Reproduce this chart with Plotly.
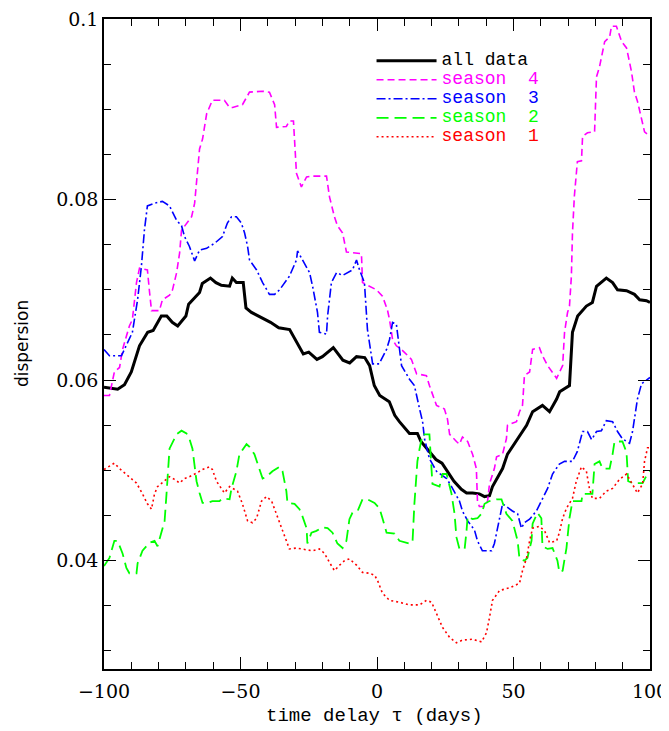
import plotly.graph_objects as go

# ---- data (time delay tau in days, dispersion) ----
tau_all = [-100,-95,-92.5,-90,-87,-84,-82,-79,-77,-75,-73,-70,-69,-65,-64,-61,-59,-57,-54,-53,-51.5,-49,-48,-46,-39,-36,-32,-29.5,-27,-25,-22,-20,-16,-12.5,-10,-7.5,-4.5,-2.7,-1,1,4.5,6.5,8.2,11.9,14.8,16.1,18.3,21.6,23.8,26.4,28.2,30.9,32.8,35,37.5,39.4,41.2,42.3,43.8,46,47.8,49.6,51.5,54.8,57,60.6,63.2,65.8,66.9,70.5,71.6,73.5,76.7,78.9,80.4,84,86.3,88.1,91.4,94.3,96.2,98.7,100]
disp_all = [0.0592,0.059,0.0595,0.0609,0.0638,0.0653,0.0655,0.0671,0.0671,0.0664,0.066,0.0671,0.0684,0.0697,0.0707,0.0713,0.0708,0.0705,0.0704,0.0713,0.0708,0.0708,0.068,0.0675,0.0664,0.0658,0.0656,0.0642,0.0629,0.0631,0.0623,0.0626,0.0636,0.0622,0.0619,0.0626,0.0625,0.0616,0.0594,0.0583,0.0576,0.0561,0.0554,0.0541,0.0541,0.0532,0.0524,0.0512,0.0508,0.0497,0.0488,0.0479,0.0475,0.0475,0.0474,0.0471,0.0472,0.0482,0.049,0.0502,0.0518,0.0526,0.0535,0.055,0.0565,0.0572,0.0565,0.0579,0.0587,0.0594,0.0653,0.0671,0.0682,0.0686,0.0704,0.0713,0.0708,0.07,0.0699,0.0695,0.0689,0.0688,0.0686]

tau_s4 = [-100,-98,-96.2,-94.3,-93.2,-90.7,-89.6,-88.1,-87,-84.1,-83.3,-82.6,-79.7,-78.6,-76,-74.9,-73.4,-72.3,-71.6,-69.8,-67.9,-66.8,-66.1,-65,-63.9,-62.4,-60.3,-55.9,-54,-52.9,-49.3,-46.7,-41.9,-39.4,-37.5,-36.8,-33.2,-32.1,-30.6,-30.2,-29.5,-27.7,-25.8,-24,-18.5,-17.4,-15.6,-14.5,-12.6,-11.2,-5.7,-5.3,-2.7,-0.2,2,3.8,4.6,5.7,7.1,9.3,12.6,14.5,18.1,19.2,21.8,24.7,25.8,26.6,29.1,30.2,31.3,33.2,35,36.4,36.8,37.5,39.4,40.5,41.2,43,43.8,46,47.4,47.8,51.1,52.2,53.3,54,55.9,57,59.5,60.6,62.5,64.3,65.8,68,68.7,69.8,70.5,71.2,71.6,72.3,73.4,74.9,75.3,77.1,79.7,80.4,81.5,83.4,85.2,85.9,87.7,89.6,91.4,93.2,94.3,95.4,96.9,98,100]
disp_s4 = [0.0583,0.0583,0.0609,0.0614,0.0634,0.066,0.0667,0.0708,0.0724,0.0722,0.0697,0.0677,0.0677,0.0689,0.0694,0.07,0.0719,0.0741,0.0766,0.0774,0.0781,0.0796,0.0818,0.0856,0.0867,0.0895,0.091,0.091,0.0902,0.0902,0.0905,0.0919,0.092,0.0919,0.0905,0.088,0.0881,0.0887,0.0887,0.0862,0.0829,0.0814,0.0825,0.0826,0.0826,0.0803,0.0781,0.0771,0.0763,0.0742,0.074,0.0708,0.0704,0.07,0.0693,0.0678,0.0667,0.0645,0.0638,0.0633,0.0623,0.0607,0.0605,0.0594,0.0572,0.0568,0.0557,0.054,0.0532,0.0529,0.0537,0.0532,0.0518,0.0502,0.0466,0.046,0.046,0.0466,0.0485,0.0502,0.0515,0.0518,0.0535,0.055,0.0554,0.0565,0.0572,0.0605,0.0609,0.0634,0.0636,0.0627,0.0616,0.0609,0.0602,0.0616,0.0653,0.0675,0.0682,0.0715,0.0763,0.0804,0.0842,0.0843,0.087,0.0874,0.0875,0.0936,0.0947,0.0975,0.098,0.0992,0.0992,0.0975,0.0968,0.0942,0.0919,0.0909,0.0891,0.0875,0.087]

tau_s3 = [-100,-98,-93.6,-91.8,-89.6,-87.7,-86.3,-85.2,-84.1,-81.5,-78.6,-76,-73.4,-71.6,-70.5,-68.7,-66.8,-65,-62.4,-59.3,-56.6,-54.8,-53.3,-51.5,-49.7,-48.5,-47.4,-46.7,-44.1,-41.9,-39.4,-37.5,-35.7,-32.1,-29.5,-29.1,-27.3,-24.7,-23.6,-21.8,-21.1,-18.5,-18.1,-16.7,-14.8,-12.6,-9,-7.5,-6.4,-4.6,-3.5,-1.6,0.8,3.5,4.6,5.7,7.1,8.2,9,11.9,13.7,15.6,16.7,17.4,19.2,21.8,25.5,27.3,30.2,31.3,33.2,35.7,36.8,38.6,42,43,44.9,46,49.6,51.5,52.9,54,55.9,58.4,60.2,62.5,64.3,66.8,68.7,71.6,73.4,75.3,77.1,78.6,80.4,82.2,84,86.3,88.1,89.9,92.5,93.6,95.4,96.9,98.7,100]
disp_s3 = [0.0634,0.0627,0.0627,0.0638,0.0653,0.0689,0.0726,0.0766,0.0793,0.0796,0.0798,0.0793,0.0777,0.0771,0.0759,0.0748,0.0732,0.0744,0.0746,0.0752,0.0759,0.0774,0.0781,0.0781,0.0774,0.0763,0.0748,0.0733,0.0722,0.0708,0.0695,0.0695,0.07,0.0715,0.0733,0.0743,0.0733,0.0719,0.0704,0.0675,0.0653,0.0651,0.0671,0.0708,0.0719,0.0716,0.0722,0.0733,0.0722,0.0708,0.0656,0.0618,0.0618,0.0634,0.0645,0.0664,0.0662,0.0634,0.0616,0.0601,0.0594,0.0568,0.0554,0.0535,0.0513,0.0499,0.0491,0.0482,0.0466,0.0455,0.0444,0.0434,0.0422,0.0411,0.0411,0.0419,0.0447,0.0463,0.0455,0.0452,0.0436,0.0442,0.0446,0.0455,0.0466,0.048,0.0496,0.0507,0.051,0.051,0.0521,0.0543,0.0543,0.0534,0.0543,0.0544,0.0555,0.0554,0.0543,0.0535,0.053,0.0543,0.0579,0.0596,0.06,0.0603]

tau_s2 = [-100,-98,-96.2,-95,-93.2,-91.8,-90.7,-88.1,-87.7,-85.9,-83.3,-81.5,-80.4,-78.9,-77.8,-77.1,-76.7,-76,-73.4,-71.6,-69.8,-68.7,-67.6,-66.8,-66.1,-65,-63.9,-62.1,-60.3,-57.7,-56.6,-54,-53.3,-51.5,-50.4,-47.8,-46.7,-44.9,-43,-41.9,-40.5,-38.3,-35.7,-34.6,-33.2,-32.8,-30.2,-28.4,-27.3,-25.8,-25.5,-24,-22.2,-20,-18.1,-16.3,-14.5,-12.6,-11.2,-10.1,-9,-7.1,-5.3,-3.5,-0.9,0.9,2,3.5,6.4,8.2,11.9,13,13.7,14.8,15.6,16.7,19.2,20,20.3,22.9,24,25.5,27.3,28.4,29.1,30.2,32.1,32.8,33.2,35,36.8,38.3,39.4,41.2,43.8,45.6,47.4,49.6,51.5,52.2,54,55.1,56.6,57,58.8,60.2,60.6,62.5,64.3,66.1,66.8,68,69.4,70.5,71.6,74.9,75.3,77.8,78.9,79.7,81.5,82.6,85.2,86.3,87,89.9,91.4,92,93.6,97.3,98.7,100]
disp_s2 = [0.0394,0.0403,0.0422,0.0422,0.0408,0.0392,0.0386,0.0386,0.0397,0.0411,0.042,0.0422,0.0416,0.0431,0.0444,0.0474,0.0493,0.0524,0.054,0.0544,0.0541,0.0535,0.0524,0.0507,0.0488,0.0475,0.0464,0.0464,0.0466,0.0466,0.0469,0.0468,0.048,0.0499,0.0518,0.0529,0.0526,0.0518,0.0502,0.0491,0.0493,0.0499,0.0504,0.0499,0.0477,0.0464,0.0463,0.0457,0.0449,0.0436,0.0419,0.0431,0.0433,0.0437,0.0436,0.0431,0.0419,0.0414,0.0422,0.0446,0.0453,0.0455,0.0468,0.0468,0.0464,0.0458,0.0447,0.0431,0.043,0.0422,0.0419,0.042,0.0463,0.051,0.0524,0.054,0.054,0.0507,0.0485,0.0482,0.0496,0.0496,0.0474,0.0452,0.0426,0.0413,0.0413,0.0433,0.0449,0.0446,0.0447,0.0452,0.0463,0.0466,0.0468,0.0468,0.0452,0.0444,0.0422,0.0402,0.04,0.0403,0.0422,0.0441,0.0453,0.0447,0.0416,0.0413,0.0414,0.04,0.0387,0.0389,0.0414,0.0447,0.0466,0.0466,0.0474,0.0474,0.0474,0.0507,0.051,0.0502,0.0502,0.0518,0.0532,0.0532,0.052,0.0488,0.0486,0.0486,0.0494,0.0499]

tau_s1 = [-100,-96.2,-94.3,-90.7,-88.1,-85.9,-84.1,-82.6,-81.5,-80.4,-77.8,-76,-74.2,-72.3,-70.5,-68.7,-66.1,-63.9,-61.4,-60.3,-58.8,-56.6,-55.9,-54,-52.9,-51.1,-49.3,-47.4,-45.6,-44.1,-42.3,-40.5,-38.6,-36.8,-35,-33.2,-32.1,-29.5,-25.8,-23.6,-21.1,-19.2,-17.4,-15.6,-13.7,-11.9,-10.1,-7.5,-5.3,-2.7,-0.9,0.2,2,4.6,8.2,11.9,15.6,18.1,20,21.8,24,26.6,29.1,31.3,35,38.3,40.1,41.2,42.3,44.9,48.7,52.2,53.3,54.8,55.9,57,59.5,61.4,63.2,65.8,66.8,68,69.4,71.6,73,74.9,76.7,77.8,78.9,81.5,84,86.3,88.8,91.4,93.6,95.4,97.3,98,99.1,100]
disp_s1 = [0.0501,0.0508,0.0502,0.0493,0.0486,0.0474,0.0463,0.0457,0.0474,0.0482,0.0488,0.0493,0.049,0.0486,0.0491,0.0493,0.0497,0.0501,0.0504,0.0501,0.0488,0.0479,0.0475,0.0482,0.048,0.0477,0.0463,0.0444,0.0442,0.0447,0.0466,0.0471,0.0466,0.0452,0.0436,0.0422,0.0413,0.0414,0.0412,0.0411,0.0413,0.0408,0.0398,0.0389,0.0395,0.04,0.0402,0.0395,0.0387,0.0386,0.0384,0.0378,0.0364,0.0356,0.0354,0.0351,0.0351,0.0356,0.0354,0.0342,0.0326,0.0315,0.0309,0.0312,0.0313,0.031,0.032,0.0337,0.0356,0.0367,0.037,0.0375,0.0389,0.0403,0.0422,0.0436,0.0438,0.0433,0.042,0.0422,0.0431,0.0447,0.0458,0.0469,0.0488,0.0504,0.0499,0.048,0.0469,0.0469,0.0477,0.048,0.049,0.0496,0.0485,0.0475,0.0485,0.051,0.0525,0.0525]

x_ticks = [-100, -50, 0, 50, 100]
x_ticklabels = ["\u2212100", "\u221250", "0", "50", "100"]
y_ticks = [0.04, 0.06, 0.08, 0.1]
y_ticklabels = ["0.04", "0.06", "0.08", "0.1"]

series = [
    ("all data", tau_all, disp_all, "#000000", "solid", 3),
    ("season&nbsp;&nbsp;4", tau_s4, disp_s4, "#ff00ff", "7px,4px", 1.6),
    ("season&nbsp;&nbsp;3", tau_s3, disp_s3, "#0000ff", "9px,3px,2px,3px", 1.6),
    ("season&nbsp;&nbsp;2", tau_s2, disp_s2, "#00ff00", "12px,6px", 1.8),
    ("season&nbsp;&nbsp;1", tau_s1, disp_s1, "#ff0000", "2px,3px", 1.6),
]

fig = go.Figure()
for name, xs, ys, col, dash, w in series:
    fig.add_trace(go.Scatter(
        x=xs, y=ys, mode="lines",
        name='<span style="color:%s;font-size:18px">%s</span>' % (col, name),
        line=dict(color=col, dash=dash, width=w),
    ))

axis_common = dict(
    showline=True, linecolor="black", linewidth=1.5, mirror="allticks",
    ticks="inside", ticklen=12, tickwidth=1.2, tickcolor="black",
    showgrid=False, zeroline=False, automargin=False, ticklabeloverflow="allow",
    tickfont=dict(family="DejaVu Serif", size=19, color="black"),
)

fig.update_xaxes(
    range=[-100, 100], tickvals=x_ticks, ticktext=x_ticklabels, ticklabelstandoff=4,
    minor=dict(ticks="inside", ticklen=7, tickwidth=1.2, tickcolor="black", dtick=10, tick0=0),
    **axis_common,
)
fig.update_yaxes(
    range=[0.028, 0.1], tickvals=y_ticks, ticktext=y_ticklabels,
    minor=dict(ticks="inside", ticklen=7, tickwidth=1.2, tickcolor="black", dtick=0.005, tick0=0),
    **axis_common,
)

# axis titles
fig.add_annotation(text="time delay \u03c4 (days)", xref="paper", yref="paper",
                   x=0.495, y=-0.072, xanchor="center", yanchor="middle", showarrow=False,
                   font=dict(family="Liberation Mono", size=19, color="black"))
fig.add_annotation(text="dispersion", xref="paper", yref="paper",
                   x=-0.150, y=0.5, xanchor="center", yanchor="middle", showarrow=False,
                   textangle=-90, font=dict(family="DejaVu Sans", size=17, color="black"))

# page has an 8px body margin: figure is sized so the plot area lands where the reference has it
fig.update_layout(
    width=661, height=723,
    margin=dict(l=96, r=19, t=11, b=62),
    plot_bgcolor="white", paper_bgcolor="white",
    legend=dict(x=0.49, y=0.958, xanchor="left", yanchor="top",
                bgcolor="rgba(0,0,0,0)", borderwidth=0,
                font=dict(family="Liberation Mono", size=12, color="black"),
                tracegroupgap=0, itemwidth=60),
)

fig.write_html("out.html")
